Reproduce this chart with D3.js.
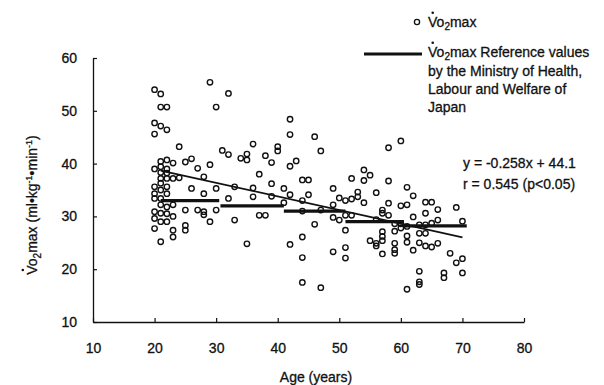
<!DOCTYPE html>
<html>
<head>
<meta charset="utf-8">
<script src="https://cdn.jsdelivr.net/npm/d3@7"></script>
<style>
  body { margin: 0; background: #fff; }
  text { font-family: "Liberation Sans", Arial, sans-serif; fill: #111; stroke: #111; stroke-width: 0.3px; }
</style>
</head>
<body>
<svg id="chart" width="604" height="385"></svg>
<script>
  // ages of the subjects (years) and their VO2max values, grouped by age
  const pointAges = [20, 21, 22, 23, 24, 25, 26, 27, 28, 29, 30, 31, 32, 33, 34, 35, 36, 37, 38, 39,
    40, 41, 42, 43, 44, 45, 46, 47, 49, 50, 51, 52, 53, 54, 55, 56, 57, 58, 59, 60,
    61, 62, 63, 64, 65, 66, 67, 68, 69, 70];
  const pointValues = [
    [54.0, 47.7, 45.6, 39.0, 35.6, 34.3, 33.4, 30.9, 29.6, 27.7],
    [53.2, 50.7, 47.1, 40.4, 39.4, 38.3, 37.2, 36.3, 35.0, 33.4, 32.2, 30.6, 29.0, 25.2],
    [50.7, 46.4, 40.7, 39.0, 38.2, 37.2, 35.6, 34.3, 31.8, 30.5, 29.0],
    [40.1, 37.2, 32.2, 30.0, 27.4, 26.1],
    [43.2, 37.3],
    [40.3, 31.2, 28.3, 27.4],
    [40.9, 35.3],
    [39.1, 31.2],
    [37.5, 34.3, 30.9, 30.3],
    [55.4, 39.8, 29.0],
    [50.7, 35.3, 31.2],
    [42.5],
    [53.3, 41.7, 33.4],
    [35.6, 29.3],
    [41.0],
    [41.8, 40.7, 24.8],
    [43.7, 35.4, 33.7],
    [38.0, 30.2],
    [41.5, 30.2],
    [40.2, 36.2, 33.8],
    [43.2, 42.4],
    [35.3, 32.6],
    [48.4, 45.5, 39.5, 34.1, 24.7],
    [40.5],
    [36.9, 33.0, 31.0, 26.1, 22.2, 17.5],
    [36.9, 34.1],
    [45.1, 28.5],
    [42.4, 31.2, 16.5],
    [35.3, 32.2, 29.8, 23.3],
    [33.5, 29.3],
    [33.0, 30.2, 27.4, 24.1, 22.1],
    [37.2, 33.3, 30.2],
    [34.6, 33.7],
    [38.8, 36.8, 32.6],
    [37.8, 25.4],
    [34.5, 29.4, 24.9, 24.4],
    [31.2, 30.6, 27.1, 26.2, 25.4, 22.9],
    [43.0, 36.7, 32.5, 30.2],
    [28.6, 27.2, 24.9, 23.7, 23.0],
    [44.3, 32.0, 28.6, 27.8],
    [35.5, 32.2, 28.1, 26.3, 25.1, 16.2],
    [33.9, 29.9, 23.6],
    [28.4, 26.8, 25.0, 19.6, 17.6, 17.1],
    [32.7, 30.6, 28.4, 26.8, 24.4],
    [32.7, 28.7, 24.2],
    [31.3, 29.3, 24.9],
    [19.3, 18.4],
    [23.0],
    [31.7, 21.2],
    [29.1, 22.0, 19.3]
  ];

  // reference values (Ministry of Health, Labour and Welfare), one per decade
  const refStart = [21, 30.7, 41, 51, 60.6];
  const refEnd = [30.5, 41, 51, 60.5, 70.7];
  const refValue = [33, 32, 31, 29, 28.2];

  // regression line
  const fitSlope = -0.258;
  const fitIntercept = 44.1;
  const fitRange = [21, 70];

  const xTicks = [10, 20, 30, 40, 50, 60, 70, 80];
  const yTicks = [10, 20, 30, 40, 50, 60];

  const svg = d3.select("#chart");
  const fs = 14;

  const x = d3.scaleLinear().domain([10, 80]).range([93, 524]);
  const y = d3.scaleLinear().domain([10, 60]).range([322, 58]);

  const points = [];
  pointAges.forEach((a, i) => pointValues[i].forEach(v => points.push({ age: a, v: v })));

  // axes
  const xAxis = d3.axisBottom(x).tickValues(xTicks).tickSizeInner(-4).tickSizeOuter(0).tickPadding(21);
  const yAxis = d3.axisLeft(y).tickValues(yTicks).tickSizeInner(-4).tickSizeOuter(0).tickPadding(16);

  const gx = svg.append("g").attr("transform", "translate(0,322)").call(xAxis);
  const gy = svg.append("g").attr("transform", "translate(93,0)").call(yAxis);
  [gx, gy].forEach(g => {
    g.select(".domain").attr("stroke", "#111").attr("stroke-width", 1.3);
    g.selectAll(".tick line").attr("stroke", "#111").attr("stroke-width", 1.2);
    g.selectAll(".tick text").attr("font-size", fs).attr("fill", "#111")
      .style("font-family", '"Liberation Sans", Arial, sans-serif');
  });

  // scatter
  svg.append("g").selectAll("circle")
    .data(points)
    .enter()
    .append("circle")
    .attr("cx", d => x(d.age))
    .attr("cy", d => y(d.v))
    .attr("r", 2.7)
    .attr("fill", "none")
    .attr("stroke", "#111")
    .attr("stroke-width", 1.4);

  // regression line
  svg.append("line")
    .attr("x1", x(fitRange[0])).attr("y1", y(fitSlope * fitRange[0] + fitIntercept))
    .attr("x2", x(fitRange[1])).attr("y2", y(fitSlope * fitRange[1] + fitIntercept))
    .attr("stroke", "#111").attr("stroke-width", 1.7);

  // reference segments
  svg.append("g").selectAll("line")
    .data(refValue)
    .enter()
    .append("line")
    .attr("x1", (d, i) => x(refStart[i]))
    .attr("x2", (d, i) => x(refEnd[i]))
    .attr("y1", d => y(d))
    .attr("y2", d => y(d))
    .attr("stroke", "#111")
    .attr("stroke-width", 3.3);

  // dot over the V
  function dotV(textSel, parent) {
    const e = textSel.node().getExtentOfChar(0);
    parent.append("circle")
      .attr("cx", e.x + e.width * 0.55)
      .attr("cy", e.y - 1.2)
      .attr("r", 1.3)
      .attr("fill", "#111");
  }

  function vo2Text(parent, tx, ty, rest) {
    const t = parent.append("text").attr("x", tx).attr("y", ty).attr("font-size", fs);
    t.append("tspan").text("V");
    t.append("tspan").text("o");
    t.append("tspan").attr("dy", 3).attr("font-size", 10).text("2");
    t.append("tspan").attr("dy", -3).text(rest);
    dotV(t, parent);
    return t;
  }

  // y-axis title
  const gt = svg.append("g").attr("transform", "translate(37,205) rotate(-90)");
  const yt = gt.append("text").attr("text-anchor", "middle").attr("font-size", fs);
  yt.append("tspan").text("V");
  yt.append("tspan").text("o");
  yt.append("tspan").attr("dy", 4).attr("font-size", 10).text("2");
  yt.append("tspan").attr("dy", -4).text("max (ml•kg");
  yt.append("tspan").attr("dy", -5).attr("font-size", 9).text("-1");
  yt.append("tspan").attr("dy", 5).text("•min");
  yt.append("tspan").attr("dy", -5).attr("font-size", 9).text("-1");
  yt.append("tspan").attr("dy", 5).text(")");
  dotV(yt, gt);

  // x-axis title
  svg.append("text").attr("x", 316).attr("y", 382).attr("text-anchor", "middle")
    .attr("font-size", fs).text("Age (years)");

  // legend
  const lg = svg.append("g");
  lg.append("circle").attr("cx", 417).attr("cy", 22).attr("r", 2.6)
    .attr("fill", "none").attr("stroke", "#111").attr("stroke-width", 1.3);
  vo2Text(lg, 428, 27, "max");
  lg.append("line").attr("x1", 364).attr("x2", 422).attr("y1", 54).attr("y2", 54)
    .attr("stroke", "#111").attr("stroke-width", 3);
  vo2Text(lg, 428, 57, "max Reference values");
  ["by the Ministry of Health,", "Labour and Welfare of", "Japan"].forEach((s, i) => {
    lg.append("text").attr("x", 428).attr("y", 76 + i * 18).attr("font-size", fs).text(s);
  });

  // equation
  svg.append("text").attr("x", 463).attr("y", 168).attr("font-size", fs).text("y = -0.258x + 44.1");
  svg.append("text").attr("x", 463).attr("y", 189).attr("font-size", fs).text("r = 0.545 (p<0.05)");
</script>
</body>
</html>
